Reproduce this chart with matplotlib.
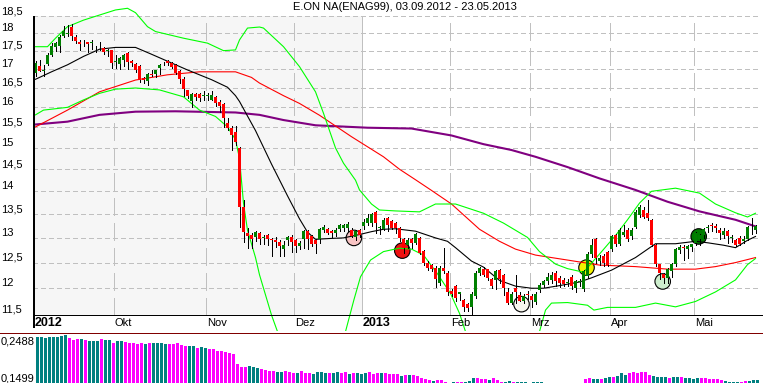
import numpy as np
import matplotlib.pyplot as plt
from matplotlib.lines import Line2D

plt.rcParams['font.family'] = ['Liberation Sans', 'DejaVu Sans']

# ---- data ----
title = 'E.ON NA(ENAG99), 03.09.2012 - 23.05.2013'
month_labels = ['2012', 'Okt', 'Nov', 'Dez', '2013', 'Feb', 'Mrz', 'Apr', 'Mai']
month_days = [20, 23, 22, 17, 22, 20, 20, 21, 16]   # trading days per month
price_ticks = [11.5, 12, 12.5, 13, 13.5, 14, 14.5, 15, 15.5, 16, 16.5, 17, 17.5, 18, 18.5]
price_labels = ['11,5', '12', '12,5', '13', '13,5', '14', '14,5', '15', '15,5',
                '16', '16,5', '17', '17,5', '18', '18,5']

opens = [16.91, 17.09, 16.95, 17.14, 17.38, 17.60, 17.63, 17.92, 17.97, 18.17,
         17.88, 17.75, 17.73, 17.74, 17.72, 17.62, 17.60, 17.58, 17.50, 17.52,
         17.20, 17.14, 17.26, 17.45, 17.22, 17.13, 17.09, 16.76, 16.68, 16.87,
         16.88, 17.03, 17.16, 17.22, 17.18, 17.12, 16.96, 16.75, 16.44, 16.15,
         16.35, 16.34, 16.29, 16.29, 16.20, 16.26, 16.14, 16.08, 15.60, 15.48,
         15.38, 15.00, 13.66, 13.11, 13.07, 13.02, 13.10, 13.00, 13.06, 12.97,
         12.96, 12.92, 12.78, 12.95, 13.02, 12.95, 12.83, 12.97, 13.15, 13.03,
         12.95, 12.97, 13.16, 13.18, 13.14, 13.11, 13.19, 13.20, 13.20, 13.17,
         13.02, 13.16, 13.24, 13.31, 13.32, 13.55, 13.20, 13.18, 13.41, 13.36,
         13.31, 13.20, 12.97, 12.85, 12.98, 12.90, 13.00, 12.73, 12.50, 12.45,
         12.40, 12.10, 12.40, 12.30, 11.94, 12.05, 11.90, 11.77, 11.70, 11.65,
         11.85, 12.30, 12.37, 12.37, 12.17, 12.15, 12.35, 12.25, 11.92, 11.72,
         12.00, 11.88, 11.76, 11.89, 11.86, 11.74, 11.96, 12.07, 12.13, 12.16,
         12.30, 12.20, 12.16, 12.10, 12.22, 12.00, 12.12, 11.98, 12.23, 12.67,
         12.98, 12.53, 12.63, 12.71, 12.77, 13.05, 12.87, 13.07, 13.17, 13.03,
         13.22, 13.48, 13.60, 13.53, 13.38, 12.85, 12.47, 12.27, 12.20, 12.33,
         12.47, 12.76, 12.80, 12.78, 12.82, 12.90, 12.98, 13.05, 13.20, 13.26,
         13.24, 13.17, 13.05, 13.14, 13.00, 12.95, 13.00, 12.94, 12.97, 13.26, 13.16]
highs = [17.22, 17.26, 17.12, 17.45, 17.72, 17.76, 17.96, 18.22, 18.24, 18.28,
         17.95, 17.82, 17.82, 17.76, 17.82, 17.65, 17.75, 17.62, 17.55, 17.53,
         17.38, 17.34, 17.42, 17.47, 17.25, 17.17, 17.11, 16.80, 16.90, 16.98,
         16.98, 17.15, 17.20, 17.25, 17.20, 17.15, 16.98, 16.79, 16.46, 16.37,
         16.37, 16.37, 16.42, 16.38, 16.42, 16.28, 16.18, 16.10, 15.73, 15.53,
         15.53, 15.02, 13.80, 13.20, 13.10, 13.14, 13.12, 13.05, 13.08, 12.99,
         13.02, 12.96, 12.93, 13.03, 13.06, 12.97, 12.93, 13.17, 13.17, 13.06,
         12.97, 13.20, 13.27, 13.20, 13.17, 13.20, 13.30, 13.30, 13.33, 13.20,
         13.16, 13.19, 13.40, 13.50, 13.52, 13.57, 13.24, 13.41, 13.43, 13.38,
         13.34, 13.22, 13.00, 13.00, 13.00, 13.10, 13.02, 12.76, 12.54, 12.48,
         12.44, 12.44, 12.80, 12.34, 11.98, 12.07, 11.93, 11.80, 11.73, 11.92,
         12.33, 12.42, 12.42, 12.38, 12.20, 12.36, 12.37, 12.27, 12.00, 11.92,
         12.25, 11.92, 11.90, 11.95, 11.90, 11.92, 12.10, 12.16, 12.30, 12.32,
         12.34, 12.24, 12.20, 12.18, 12.25, 12.16, 12.18, 12.36, 12.72, 12.98,
         13.00, 12.66, 12.68, 12.74, 13.06, 13.08, 13.20, 13.27, 13.20, 13.20,
         13.60, 13.70, 13.66, 13.80, 13.40, 12.87, 12.47, 12.30, 12.40, 12.50,
         12.80, 12.85, 12.86, 12.86, 12.88, 13.13, 13.08, 13.20, 13.26, 13.32,
         13.30, 13.20, 13.20, 13.17, 13.06, 12.98, 13.03, 13.03, 13.25, 13.42, 13.28]
lows = [16.82, 16.94, 16.82, 17.12, 17.36, 17.50, 17.48, 17.90, 17.92, 17.80,
        17.73, 17.52, 17.64, 17.48, 17.56, 17.48, 17.52, 17.43, 17.35, 17.02,
        17.02, 17.00, 17.10, 17.00, 17.08, 16.92, 16.65, 16.62, 16.58, 16.82,
        16.78, 16.88, 17.12, 17.12, 17.04, 16.87, 16.63, 16.30, 16.24, 16.02,
        16.20, 16.16, 16.20, 16.20, 16.18, 16.03, 15.88, 15.50, 15.43, 14.96,
        15.08, 13.23, 12.92, 12.80, 12.80, 12.93, 12.88, 12.88, 12.85, 12.63,
        12.82, 12.64, 12.64, 12.86, 12.72, 12.72, 12.78, 12.80, 12.77, 12.83,
        12.70, 12.90, 13.12, 13.08, 13.02, 13.04, 13.14, 13.15, 13.15, 13.02,
        12.95, 13.02, 13.18, 13.28, 13.25, 13.10, 13.08, 13.16, 13.14, 13.18,
        13.10, 12.94, 12.70, 12.80, 12.80, 12.88, 12.67, 12.46, 12.36, 12.33,
        12.03, 12.07, 12.30, 11.87, 11.86, 11.76, 11.78, 11.57, 11.57, 11.50,
        11.82, 12.26, 12.24, 12.16, 12.00, 11.98, 12.10, 11.88, 11.70, 11.70,
        11.72, 11.75, 11.72, 11.80, 11.65, 11.70, 11.92, 12.02, 12.08, 12.10,
        12.05, 12.02, 12.04, 12.05, 11.98, 11.93, 12.05, 11.95, 12.20, 12.62,
        12.50, 12.46, 12.44, 12.43, 12.74, 12.83, 12.85, 13.03, 12.93, 12.97,
        13.20, 13.45, 13.41, 13.38, 12.83, 12.43, 12.17, 12.10, 12.10, 12.22,
        12.43, 12.70, 12.56, 12.60, 12.73, 12.86, 12.85, 13.00, 13.12, 13.15,
        13.13, 12.98, 13.00, 12.90, 12.92, 12.83, 12.85, 12.90, 12.95, 13.08, 13.10]
closes = [17.17, 16.96, 16.97, 17.40, 17.65, 17.72, 17.90, 18.07, 18.00, 17.93,
          17.78, 17.70, 17.71, 17.70, 17.73, 17.60, 17.62, 17.48, 17.52, 17.18,
          17.22, 17.30, 17.38, 17.20, 17.16, 16.98, 16.72, 16.72, 16.88, 16.84,
          16.97, 17.12, 17.17, 17.16, 17.07, 16.89, 16.75, 16.47, 16.28, 16.34,
          16.26, 16.24, 16.30, 16.31, 16.32, 16.12, 16.03, 15.73, 15.48, 15.32,
          15.15, 13.66, 13.13, 13.03, 12.98, 13.13, 12.98, 13.01, 12.97, 12.95,
          12.92, 12.83, 12.85, 13.02, 12.92, 12.83, 12.89, 13.15, 12.98, 12.88,
          12.87, 13.18, 13.22, 13.10, 13.10, 13.16, 13.26, 13.26, 13.29, 13.04,
          13.15, 13.07, 13.34, 13.41, 13.50, 13.31, 13.21, 13.38, 13.27, 13.20,
          13.20, 13.00, 12.80, 12.95, 12.90, 13.08, 12.70, 12.50, 12.40, 12.37,
          12.17, 12.40, 12.33, 11.92, 11.90, 11.82, 11.90, 11.65, 11.63, 11.90,
          12.30, 12.40, 12.26, 12.20, 12.05, 12.33, 12.17, 12.00, 11.72, 11.90,
          11.93, 11.76, 11.86, 11.88, 11.78, 11.90, 12.06, 12.13, 12.22, 12.26,
          12.13, 12.10, 12.08, 12.12, 12.05, 12.13, 12.13, 12.33, 12.67, 12.85,
          12.60, 12.60, 12.50, 12.45, 13.03, 12.87, 13.17, 13.13, 12.97, 13.17,
          13.55, 13.65, 13.43, 13.41, 12.85, 12.47, 12.30, 12.20, 12.37, 12.47,
          12.77, 12.82, 12.79, 12.84, 12.87, 13.10, 13.05, 13.18, 13.22, 13.24,
          13.20, 13.10, 13.15, 13.03, 13.02, 12.85, 12.87, 12.97, 13.22, 13.28, 13.25]

# indicator lines (day index, price)
ma_short_x = [0, 4, 8, 12, 16, 20, 25, 29, 34, 38, 44, 48, 50, 51, 55, 59, 63, 66, 68, 70,
              74, 77, 81, 84, 87, 90, 95, 100, 103, 105, 109, 112, 116, 120, 124, 127, 131,
              136, 139, 144, 150, 155, 160, 165, 168, 172, 175, 178, 180]
ma_short_y = [16.73, 16.93, 17.12, 17.35, 17.55, 17.60, 17.60, 17.41, 17.17, 16.98, 16.72,
              16.52, 16.30, 16.15, 15.42, 14.62, 13.90, 13.40, 13.12, 12.97, 12.99, 13.00,
              13.07, 13.13, 13.18, 13.19, 13.14, 13.00, 12.93, 12.80, 12.53, 12.41, 12.15,
              12.04, 12.00, 12.00, 12.05, 12.12, 12.20, 12.35, 12.60, 12.88, 12.88, 12.93,
              12.90, 12.85, 12.80, 12.95, 13.03]
ma_mid_x = [0, 8, 16, 25, 33, 41, 50, 54, 56, 62, 66, 71, 79, 87, 91, 95, 99, 104, 111,
            116, 120, 125, 133, 141, 150, 158, 165, 170, 175, 180]
ma_mid_y = [15.51, 15.93, 16.40, 16.71, 16.85, 16.93, 16.93, 16.78, 16.63, 16.30, 16.10,
            15.80, 15.27, 14.79, 14.50, 14.26, 14.02, 13.72, 13.18, 12.93, 12.77, 12.65,
            12.55, 12.45, 12.42, 12.37, 12.37, 12.42, 12.50, 12.60]
ma_long_x = [0, 8, 16, 25, 35, 50, 54, 56, 62, 70, 83, 94, 104, 112, 119, 125, 133, 141,
             150, 158, 166, 175, 180]
ma_long_y = [15.57, 15.64, 15.81, 15.89, 15.90, 15.87, 15.83, 15.81, 15.68, 15.55, 15.49,
             15.47, 15.30, 15.09, 14.95, 14.79, 14.55, 14.29, 14.03, 13.77, 13.56, 13.38,
             13.24]
band_up_x = [0, 3, 5, 8, 12, 16, 20, 23, 25, 28, 30, 37, 43, 47, 50, 51, 53, 56, 57, 62,
             66, 70, 72, 75, 77, 80, 81, 84, 86, 90, 96, 100, 105, 112, 117, 123, 126, 130,
             133, 137, 141, 145, 148, 151, 154, 160, 166, 170, 175, 178, 180]
band_up_y = [17.62, 17.62, 17.86, 18.19, 18.38, 18.53, 18.68, 18.73, 18.60, 18.19, 18.05,
             17.86, 17.72, 17.51, 17.53, 17.81, 18.15, 18.18, 18.15, 17.62, 17.07, 16.40,
             15.85, 15.00, 14.64, 14.25, 14.03, 13.72, 13.59, 13.57, 13.55, 13.72, 13.72,
             13.52, 13.31, 13.01, 12.72, 12.47, 12.38, 12.31, 12.67, 13.05, 13.38, 13.74,
             14.00, 14.07, 13.96, 13.72, 13.53, 13.44, 13.52]
band_lo_x = [0, 2, 8, 12, 16, 20, 25, 31, 37, 41, 45, 48, 50, 51, 52, 53, 55, 56, 59, 60.5,
             64, 69, 74, 77.5, 79.6, 81.25, 83.75, 87, 91, 94, 97, 100.4, 103.75, 106, 107.5,
             112, 118, 123, 126, 127.5, 129, 133, 138, 139.6, 143, 150, 155, 160, 165, 170,
             175, 178, 180]
band_lo_y = [15.81, 15.93, 16.00, 16.19, 16.36, 16.47, 16.50, 16.45, 16.27, 15.93, 15.77,
             15.51, 15.20, 14.75, 13.74, 13.16, 12.60, 12.26, 11.50, 11.20, 10.70, 10.40,
             10.70, 11.20, 11.78, 12.22, 12.55, 12.72, 12.79, 12.77, 12.65, 12.29, 11.90,
             11.53, 11.20, 10.80, 10.60, 10.90, 11.20, 11.59, 11.72, 11.73, 11.68, 11.59,
             11.64, 11.64, 11.72, 11.65, 11.75, 11.93, 12.16, 12.46, 12.58]

# signal circles
signal_x = [79.6, 91.7, 121.5, 137.75, 156.8, 165.8]
signal_y = [13.0, 12.74, 11.70, 12.40, 12.13, 13.03]
signal_colors = ['#f8c4c4', '#ee1111', '#f6f6ee', '#f2f200', '#cdeecd', '#007a00']

# lower panel indicator
ind_values = [0.2447, 0.2447, 0.2426, 0.2447, 0.2447, 0.2447, 0.2467, 0.2488, 0.2426, 0.2385,
              0.2405, 0.2405, 0.2385, 0.2364, 0.2364, 0.2364, 0.2405, 0.2385, 0.2385, 0.2323,
              0.2364, 0.2364, 0.2344, 0.2323, 0.2323, 0.2302, 0.2323, 0.2302, 0.2323, 0.2323,
              0.2323, 0.2323, 0.2302, 0.2302, 0.2302, 0.2323, 0.2282, 0.2261, 0.2261, 0.2261,
              0.2220, 0.2241, 0.2220, 0.2199, 0.2199, 0.2158, 0.2158, 0.2138, 0.2117, 0.2096,
              0.1890, 0.1829, 0.1829, 0.1849, 0.1829, 0.1808, 0.1787, 0.1767, 0.1746, 0.1746,
              0.1726, 0.1726, 0.1746, 0.1726, 0.1705, 0.1705, 0.1746, 0.1705, 0.1705, 0.1684,
              0.1726, 0.1726, 0.1705, 0.1705, 0.1705, 0.1726, 0.1705, 0.1726, 0.1684, 0.1705,
              0.1705, 0.1684, 0.1705, 0.1726, 0.1684, 0.1705, 0.1705, 0.1705, 0.1684, 0.1684,
              0.1684, 0.1643, 0.1664, 0.1664, 0.1664, 0.1643, 0.1602, 0.1581, 0.1561, 0.1540,
              0.1561, 0.1561, 0.1520, 0.1499, 0.1520, 0.1520, 0.1520, 0.1520, 0.1540, 0.1602,
              0.1602, 0.1581, 0.1581, 0.1561, 0.1602, 0.1561, 0.1520, 0.1520, 0.1540, 0.1520,
              0.1520, 0.1520, 0.1520, 0.1499, 0.1520, 0.1520, 0.1520, 0.1499, 0.1499, 0.1499,
              0.1499, 0.1499, 0.1499, 0.1499, 0.1499, 0.1499, 0.1499, 0.1581, 0.1602, 0.1581,
              0.1581, 0.1581, 0.1602, 0.1623, 0.1623, 0.1643, 0.1705, 0.1664, 0.1705, 0.1726,
              0.1705, 0.1726, 0.1726, 0.1664, 0.1643, 0.1623, 0.1623, 0.1623, 0.1602, 0.1623,
              0.1623, 0.1623, 0.1602, 0.1602, 0.1581, 0.1602, 0.1602, 0.1602, 0.1581, 0.1581,
              0.1581, 0.1561, 0.1540, 0.1520, 0.1520, 0.1520, 0.1520, 0.1540, 0.1540, 0.1561,
              0.1561]
ind_flags = ('TTTTTTTTMMMTMTTTMTTMTTMMMMMTMTTTTMMMMMTTMTTMMMMMMMMMMTTTMMMMTTMMMTMMMTTTTMTTMMTMT'
             'TTMMMTMMMMTMTMMMMMTMMMMTMMTTTMMMTMMMTTMTTTTTTTTTTTTTTTTMMMTTMTTMTTTMMMMMMTTTTMTTM'
             'TTTTMMMMMMTTTTMM')
ind_min, ind_max = 0.1499, 0.2488

# ---- figure ----
W, H = 763, 383
fig = plt.figure(figsize=(W / 100, H / 100), dpi=100)

# price axis: log scale, 628.8 px per ln unit, 11.5 sits at y=315 px
# x: 4 px per trading day, candle centres on pixel centres
x0, x1 = -0.625, 181.875
ax = fig.add_axes([33 / W, (H - 331) / H, (W - 33) / W, 331 / H])
ax.set_yscale('log')
ax.set_xlim(x0, x1)
ax.set_ylim(11.5 * np.exp(-16 / 628.8), 11.5 * np.exp(315 / 628.8))
ax.axis('off')

bounds = np.cumsum(month_days) - 0.5
starts = np.concatenate([[-0.5], bounds[:-1]])
year_start = starts[month_labels.index('2013')]
last = len(opens) - 0.5

# background of 2012 part, grid
ax.fill_between([x0, year_start], 11.5, 18.5, color='#f6f6f6', lw=0, zorder=0)
ax.hlines(price_ticks[1:], x0, last, colors='#c0c0c0', linestyles=(0, (5, 3)),
          linewidth=0.72, zorder=1, antialiased=False)
month_lines = [b for b in starts[1:] if b != year_start]
ax.vlines(month_lines, 11.5, 18.5, colors='#c0c0c0', linestyles=(0, (17, 7)),
          linewidth=0.72, zorder=1, antialiased=False)
ax.vlines(year_start, 11.5, 18.5, colors='#c0c0c0', linewidth=0.72, zorder=1,
          antialiased=False)
ax.axhline(11.5, color='black', lw=0.72, zorder=5, antialiased=False)
ax.vlines(x0 + 0.125, 11.5 * np.exp(-13 / 628.8), 18.5, colors='black', lw=1.44,
          zorder=5, antialiased=False)

# signals and indicator lines
ax.scatter(signal_x, signal_y, s=125, c=signal_colors, edgecolors='black',
           linewidths=0.8, zorder=1.8)
ax.plot(ma_long_x, ma_long_y, color='#800080', lw=1.5, zorder=2)
ax.plot(ma_mid_x, ma_mid_y, color='#ff0000', lw=0.8, zorder=2)
ax.plot(band_up_x, band_up_y, color='#00ff00', lw=0.8, zorder=2)
ax.plot(band_lo_x, band_lo_y, color='#00ff00', lw=0.8, zorder=2)
ax.plot(ma_short_x, ma_short_y, color='black', lw=0.8, zorder=2)

# candles
o = np.array(opens)
c = np.array(closes)
x = np.arange(len(o))
ax.vlines(x, lows, highs, colors='black', lw=0.72, zorder=3, antialiased=False)
body_col = np.where(c >= o, '#008000', '#ff0000')
ax.bar(x, np.maximum(np.abs(c - o), 0.02), bottom=np.minimum(o, c), width=0.75,
       color=body_col, lw=0, zorder=4, antialiased=False)

# labels
xt = ax.get_xaxis_transform()
for s, lab in zip(starts, month_labels):
    bold = lab.isdigit()
    ax.text(s + 0.35, 8 / 331, lab, transform=xt, ha='left', va='center',
            fontsize=9 if bold else 8, fontweight='bold' if bold else 'normal')

for v, lab in zip(price_ticks, price_labels):
    ypx = 315 - 628.8 * np.log(v / 11.5)
    fig.text(1 / W, 1 - (ypx - 5) / H, lab, ha='left', va='center', fontsize=8)

fig.text(405 / W, 1 - 7 / H, title, ha='center', va='center', fontsize=8)

# separator
fig.add_artist(Line2D([0, 1], [1 - 332.5 / H] * 2, color='#800000', lw=0.72,
                      transform=fig.transFigure, antialiased=False))

# lower panel
bx = fig.add_axes([33 / W, 0, (W - 33) / W, 50 / H])
bx.set_xlim(x0, x1)
px = (ind_max - ind_min) / 48
bx.set_ylim(ind_min, ind_min + 50 * px)
bx.axis('off')
vals = np.array(ind_values)
bar_col = ['#008080' if f == 'T' else '#ff00ff' for f in ind_flags]
bx.bar(x + 0.5, vals - ind_min, bottom=ind_min, width=0.75, color=bar_col, lw=0,
       antialiased=False)

fig.text(1 / W, 1 - 341.5 / H, '0,2488', ha='left', va='center', fontsize=8)
fig.text(1 / W, 1 - 378.5 / H, '0,1499', ha='left', va='center', fontsize=8)

fig.savefig('out.png', dpi=100)
